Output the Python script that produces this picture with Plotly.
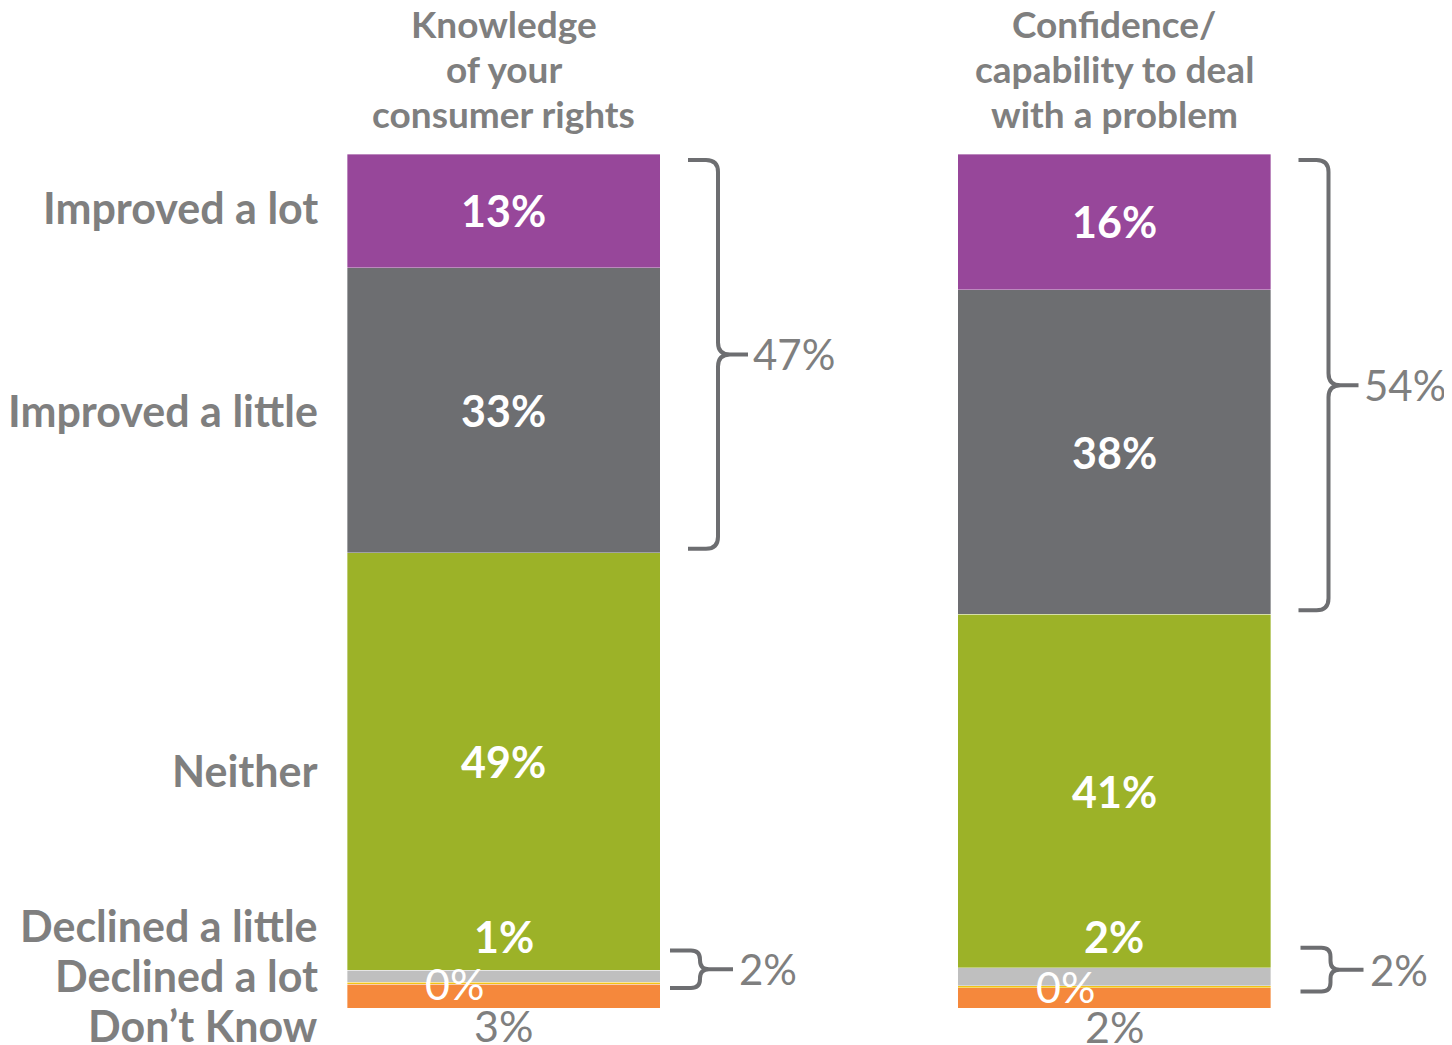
import plotly.graph_objects as go

# stacked from the bottom up
categories = ["Don’t Know", "Declined a lot", "Declined a little", "Neither", "Improved a little", "Improved a lot"]
colors = ["#f5883c", "#f2c316", "#bfbfbf", "#9cb228", "#6d6e71", "#97479a"]
measures = ["Knowledge<br>of your<br>consumer rights", "Confidence/<br>capability to deal<br>with a problem"]
knowledge = [2.8, 0.2, 1.4, 48.9, 33.4, 13.3]
confidence = [2.4, 0.2, 2.1, 41.4, 38.0, 15.9]
series = [knowledge, confidence]

GRAY = "#7f7f7f"
LINE = "#6d6e71"
FONT = "Lato"
W, H = 1444, 1037          # page body has an 8px margin
X_PX = 610.5               # px per x unit
Y_PX = 8.54                # px per percentage point
X_RANGE = [-495.5 / X_PX, -495.5 / X_PX + W / X_PX]
Y_TOP = 100 + 146 / Y_PX
Y_RANGE = [Y_TOP - H / Y_PX, Y_TOP]
BAR_W = 313 / X_PX

fig = go.Figure()
for k, cat in enumerate(categories):
    fig.add_trace(go.Bar(
        x=[0, 1], y=[s[k] for s in series], name=cat, width=BAR_W,
        marker=dict(color=colors[k], line=dict(color="rgba(255,255,255,0.6)", width=0.6)),
        showlegend=False, hoverinfo="name+y",
    ))

ann = []
shapes = []


def px_x(p):
    return p / X_PX


def px_y(p):
    return p / Y_PX


def brace(xl, yt, yb, depth, tip, r):
    xv = xl + px_x(depth)
    xt = xv + px_x(tip)
    rx, ry = px_x(r), px_y(r)
    ym = (yt + yb) / 2
    path = (
        f"M {xl},{yt} L {xv - rx},{yt} Q {xv},{yt} {xv},{yt - ry} "
        f"L {xv},{ym + ry} Q {xv},{ym} {xv + rx},{ym} L {xt},{ym} "
        f"M {xv + rx},{ym} Q {xv},{ym} {xv},{ym - ry} "
        f"L {xv},{yb + ry} Q {xv},{yb} {xv - rx},{yb} L {xl},{yb}"
    )
    shapes.append(dict(type="path", path=path, xref="x", yref="y",
                       line=dict(color=LINE, width=4)))
    return xt, ym


for i, vals in enumerate(series):
    cum = [sum(vals[:k]) for k in range(len(vals) + 1)]
    right = i + BAR_W / 2
    # values inside the big segments
    for k in (3, 4, 5):
        ann.append(dict(x=i, y=(cum[k] + cum[k + 1]) / 2, text=f"{vals[k]:.0f}%",
                        showarrow=False, font=dict(family=FONT, size=43, color="white", weight="bold")))
    # small segments
    ann.append(dict(x=i, y=(cum[2] + cum[3]) / 2, yshift=40, text=f"{vals[2]:.0f}%",
                    showarrow=False, font=dict(family=FONT, size=43, color="white", weight="bold")))
    ann.append(dict(x=i, y=(cum[1] + cum[2]) / 2, xshift=-49, yshift=0, text=f"{vals[1]:.0f}%",
                    showarrow=False, font=dict(family=FONT, size=43, color="white")))
    ann.append(dict(x=i, y=(cum[0] + cum[1]) / 2, yshift=-29, text=f"{vals[0]:.0f}%",
                    showarrow=False, font=dict(family=FONT, size=43, color=GRAY)))
    # column title, one annotation per line
    for j, line in enumerate(measures[i].split("<br>")):
        ann.append(dict(x=i, y=100 + px_y(131 - 45 * j), text=line, showarrow=False,
                        font=dict(family=FONT, size=37, color=GRAY, weight="bold")))
    # improved bracket
    xt, ym = brace(right + px_x(28), 100 - px_y(6), cum[4] + px_y(4), 30, 30, 12)
    ann.append(dict(x=xt + px_x(3), y=ym, xanchor="left", text=f"{vals[4] + vals[5]:.0f}%",
                    showarrow=False, font=dict(family=FONT, size=42, color=GRAY)))
    # declined bracket
    xt, ym = brace(right + px_x(10 + 20 * i), cum[3] + px_y(20), cum[1] - px_y(4), 30, 33, 9)
    ann.append(dict(x=xt + px_x(4), y=ym, xanchor="left", text=f"{vals[1] + vals[2]:.0f}%",
                    showarrow=False, font=dict(family=FONT, size=42, color=GRAY)))

# row labels on the left, aligned to the first column
first = series[0]
cum0 = [sum(first[:k]) for k in range(len(first) + 1)]
row_y = {
    "Improved a lot": ((cum0[5] + cum0[6]) / 2, 3),
    "Improved a little": ((cum0[4] + cum0[5]) / 2, 0),
    "Neither": ((cum0[3] + cum0[4]) / 2, -9),
    "Declined a little": (0, 83),
    "Declined a lot": (0, 33),
    "Don’t Know": (0, -17),
}
for cat, (yv, shift) in row_y.items():
    ann.append(dict(x=px_x(320 - 503.5), y=yv, yshift=shift, xanchor="right", text=cat,
                    showarrow=False, font=dict(family=FONT, size=43, color=GRAY, weight="bold")))

fig.update_layout(
    barmode="stack", width=W, height=H,
    margin=dict(l=0, r=0, t=0, b=0),
    paper_bgcolor="white", plot_bgcolor="white",
    xaxis=dict(range=X_RANGE, visible=False, fixedrange=True),
    yaxis=dict(range=Y_RANGE, visible=False, fixedrange=True),
    annotations=ann, shapes=shapes,
)

fig.write_html("out.html")
